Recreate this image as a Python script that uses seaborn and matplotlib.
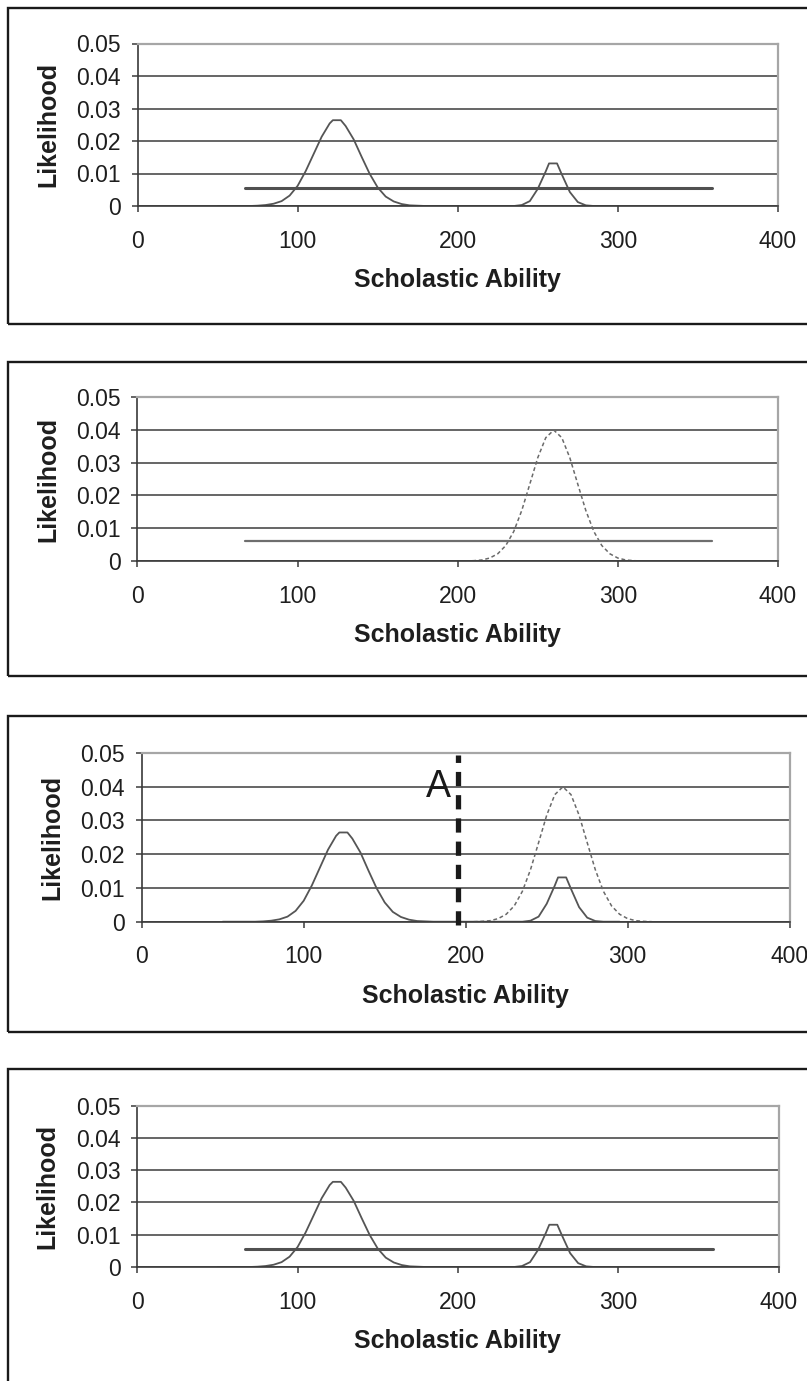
import matplotlib
matplotlib.use("Agg")
import matplotlib.pyplot as plt
from matplotlib.patches import Rectangle
import seaborn as sns

# --- data ---
X_TICKS = [0, 100, 200, 300, 400]
Y_TICKS = [0, 0.01, 0.02, 0.03, 0.04, 0.05]
Y_TICK_LABELS = ['0', '0.01', '0.02', '0.03', '0.04', '0.05']

# prior (solid curve): big bump near 125, small bump near 260
SOLID_X = [50, 55, 60, 65, 70, 75, 80, 85, 90, 95, 100, 105, 110, 115, 120, 122,
           127, 130, 135, 140, 145, 150, 155, 160, 165, 170, 175, 180, 185, 190,
           195, 200, 205, 210, 215, 220, 225, 230, 235, 240, 245, 250, 255, 257,
           262, 265, 270, 275, 280, 285, 290, 295]
SOLID_Y = [0, 0, 0, 0, 0, 0.0001, 0.0003, 0.0007, 0.0015, 0.0032, 0.0062, 0.0107,
           0.0160, 0.0213, 0.0254, 0.0264, 0.0264, 0.0246, 0.0205, 0.0151, 0.0099,
           0.0057, 0.0029, 0.0014, 0.0006, 0.0002, 0.0001, 0, 0, 0,
           0, 0, 0, 0, 0, 0, 0, 0, 0, 0.0003, 0.0015, 0.0053, 0.0107, 0.0131,
           0.0131, 0.0097, 0.0043, 0.0012, 0.0002, 0, 0, 0]

# likelihood of the test score (dotted curve)
DOTTED_X = [205, 210, 215, 220, 225, 230, 235, 240, 245, 250, 255, 260, 265, 270,
            275, 280, 285, 290, 295, 300, 305, 310, 315]
DOTTED_Y = [0, 0.0001, 0.0003, 0.0009, 0.0022, 0.0047, 0.0090, 0.0154, 0.0234,
            0.0315, 0.0376, 0.0399, 0.0376, 0.0315, 0.0234, 0.0154, 0.0090, 0.0047,
            0.0022, 0.0009, 0.0003, 0.0001, 0]

# flat (uniform) line
FLAT_X = [67, 359]
FLAT_LEVEL = [0.0055, 0.006, None, 0.0055]

# decision threshold in panel 3
A_X = 195
A_RANGE = [-0.001, 0.0493]
A_LABEL_POS = (183, 0.037)

# --- layout (pixels, origin top-left) ---
W, H = 807, 1381
AXES_PX = [(137.5, 43.5, 778.0, 206.0),
           (137.4, 397.0, 778.0, 561.0),
           (141.7, 752.7, 789.7, 921.7),
           (137.3, 1105.7, 778.5, 1267.0)]
FRAMES_PX = [(7.5, 324.0), (362.5, 676.0), (715.5, 1031.5), (1069.0, 1420.0)]

sns.set_style("white")
plt.rcParams['font.family'] = ['Liberation Sans', 'DejaVu Sans']

fig = plt.figure(figsize=(W / 100, H / 100), dpi=100)

for top, bottom in FRAMES_PX:
    fig.add_artist(Rectangle((8 / W, 1 - bottom / H), (840 - 8) / W, (bottom - top) / H,
                             transform=fig.transFigure, fill=False, lw=1.7,
                             ec='#1a1a1a', clip_on=False))

for i, (l, t, r, b) in enumerate(AXES_PX):
    ax = fig.add_axes([l / W, 1 - b / H, (r - l) / W, (b - t) / H])
    ax.set_axisbelow(True)

    if i in (0, 2, 3):
        sns.lineplot(x=SOLID_X, y=SOLID_Y, ax=ax, color='#555555', linewidth=1.3)
    if i in (1, 2):
        sns.lineplot(x=DOTTED_X, y=DOTTED_Y, ax=ax, color='#6a6a6a', linewidth=1.1,
                     linestyle=(0, (2.5, 1.8)))
    if FLAT_LEVEL[i] is not None:
        thick = i != 1
        sns.lineplot(x=FLAT_X, y=[FLAT_LEVEL[i]] * len(FLAT_X), ax=ax,
                     color='#505050' if thick else '#6e6e6e',
                     linewidth=2.2 if thick else 1.6)
    if i == 2:
        ax.vlines(A_X, A_RANGE[0], A_RANGE[1], colors='#1a1a1a', linewidth=3.8,
                  linestyles=(0, (2.7, 1.7)), clip_on=False, zorder=5)
        ax.text(A_LABEL_POS[0], A_LABEL_POS[1], 'A', fontsize=27, ha='center',
                va='baseline', color='#1a1a1a')

    ax.set_xlim(0, 400)
    ax.set_ylim(0, 0.05)
    ax.set_xticks(X_TICKS)
    ax.set_yticks(Y_TICKS)
    ax.set_yticklabels(Y_TICK_LABELS)
    ax.grid(axis='y', color='#444444', linewidth=1.15)
    ax.grid(axis='x', visible=False)

    for side in ('top', 'right'):
        ax.spines[side].set_color('#a6a6a6')
        ax.spines[side].set_linewidth(1.6)
    for side in ('left', 'bottom'):
        ax.spines[side].set_color('#3a3a3a')
        ax.spines[side].set_linewidth(1.2)

    ax.tick_params(axis='both', direction='out', length=4, width=1.1, color='#3a3a3a',
                   labelsize=16.5, labelcolor='#1e1e1e', bottom=True, left=True)
    ax.tick_params(axis='x', pad=13)
    ax.tick_params(axis='y', pad=8)

    h_px = b - t
    w_px = r - l
    ax.set_xlabel('Scholastic Ability', fontsize=18, fontweight='bold', color='#1e1e1e')
    ax.xaxis.label.set_va('center')
    ax.xaxis.set_label_coords(0.5, -74 / h_px)
    ax.set_ylabel('Likelihood', fontsize=18, fontweight='bold', color='#1e1e1e')
    ax.yaxis.label.set_va('center')
    ax.yaxis.set_label_coords(-89.5 / w_px, 0.5)

fig.savefig('out.png', dpi=100)
